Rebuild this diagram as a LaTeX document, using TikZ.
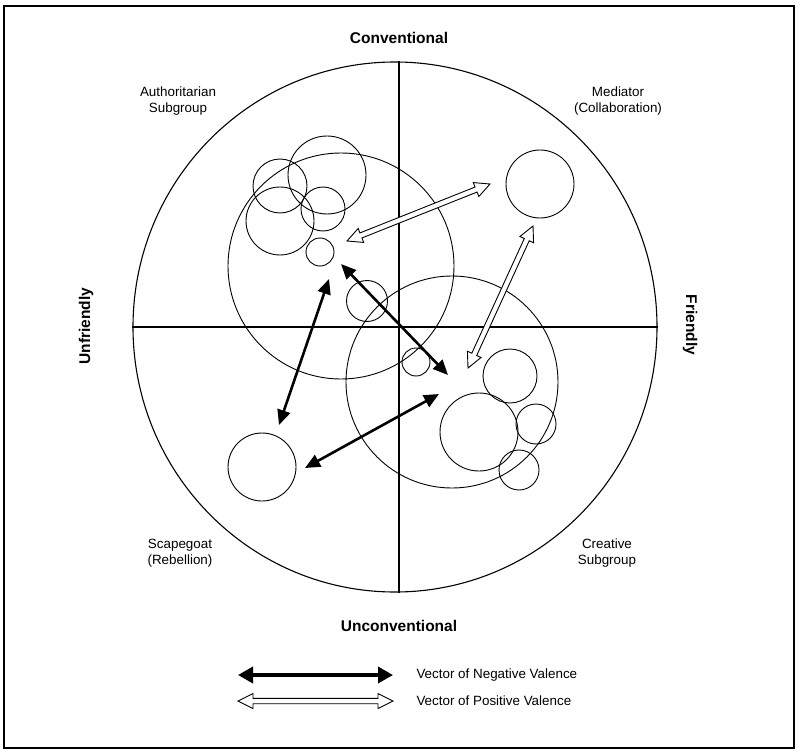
\documentclass[tikz,border=0pt]{standalone}
\usepackage{fontspec}
\setmainfont{Liberation Sans}
\usetikzlibrary{positioning,calc,arrows.meta,shapes.geometric}

% white vector with two open heads, between two named coordinates
\newcommand{\posvec}[2]{%
  \draw[posline] (#1)
    -- ($(#1)!15pt!(#2)!7.5pt!90:(#2)$)
    -- ($(#1)!15pt!(#2)!2.7pt!90:(#2)$)
    -- ($(#2)!15pt!(#1)!2.7pt!-90:(#1)$)
    -- ($(#2)!15pt!(#1)!7.5pt!-90:(#1)$)
    -- (#2)
    -- ($(#2)!15pt!(#1)!7.5pt!90:(#1)$)
    -- ($(#2)!15pt!(#1)!2.7pt!90:(#1)$)
    -- ($(#1)!15pt!(#2)!2.7pt!-90:(#2)$)
    -- ($(#1)!15pt!(#2)!7.5pt!-90:(#2)$)
    -- cycle;}

\begin{document}
\begin{tikzpicture}[x=1pt,y=-1pt,
    member/.style={circle,draw,line width=0.9pt,inner sep=0pt},
    axislbl/.style={font=\fontsize{15.5}{18}\selectfont\bfseries},
    rolelbl/.style={align=center,font=\fontsize{13.4}{16}\selectfont},
    negvec/.style={line width=2.6pt,{Triangle[length=15pt,width=13pt]}-{Triangle[length=15pt,width=13pt]}},
    posline/.style={draw,fill=white,line width=0.9pt,line join=miter}]
  \useasboundingbox (0,0) rectangle (800,754);
  \draw[line width=1.4pt] (4,6) rectangle (794,748);

  % the field
  \node[ellipse,draw,line width=1.1pt,inner sep=0pt,minimum width=524pt,minimum height=530pt] (field) at (395,327) {};
  \draw[line width=1.1pt] (field.west) -- (field.east);
  \draw[line width=1.1pt] ([xshift=4pt]field.north) -- ([xshift=4pt]field.south);

  \node[axislbl] (conv) at (399,38) {Conventional};
  \node[axislbl] (unconv) at (399,626) {Unconventional};
  \node[axislbl,rotate=90] (unfr) at (86,326) {Unfriendly};
  \node[axislbl,rotate=-90] (fr) at (690,325) {Friendly};

  \node[rolelbl] (authlbl) at (178,101) {Authoritarian\\Subgroup};
  \node[rolelbl] (medlbl) at (618,101) {Mediator\\(Collaboration)};
  \node[rolelbl] (scapelbl) at (180,553) {Scapegoat\\(Rebellion)};
  \node[rolelbl] (crealbl) at (607,553) {Creative\\Subgroup};

  % subgroups
  \node[member,minimum size=226pt] (auth) at (341,266) {};
  \node[member,minimum size=212pt] (crea) at (452,382) {};
  \node[member,minimum size=54pt] (a1) at (280,186) {};
  \node[member,minimum size=78pt] (a2) at (327,175) {};
  \node[member,minimum size=68pt] (a3) at (280,221) {};
  \node[member,minimum size=44pt] (a4) at (323,209) {};
  \node[member,minimum size=28pt] (a5) at (320,252) {};
  \node[member,minimum size=41pt] (a6) at (367,301) {};
  \node[member,minimum size=28pt] (c0) at (416,362) {};
  \node[member,minimum size=68pt] (med) at (540,184) {};
  \node[member,minimum size=68pt] (scape) at (262,467) {};
  \node[member,minimum size=54pt] (c1) at (510,376) {};
  \node[member,minimum size=78pt] (c2) at (479,432) {};
  \node[member,minimum size=40pt] (c3) at (536,424) {};
  \node[member,minimum size=40pt] (c4) at (519,470) {};

  % vectors
  \coordinate (p1a) at (347,241); \coordinate (p1b) at (490,184);
  \coordinate (p2a) at (533,226); \coordinate (p2b) at (468,368);
  \coordinate (n1a) at (329,279); \coordinate (n1b) at (279,425);
  \coordinate (n2a) at (341,264); \coordinate (n2b) at (448,375);
  \coordinate (n3a) at (439,394); \coordinate (n3b) at (305,468);
  \posvec{p1a}{p1b}
  \posvec{p2a}{p2b}
  \draw[negvec] (n1a) -- (n1b);
  \draw[negvec] (n2a) -- (n2b);
  \draw[negvec] (n3a) -- (n3b);

  % legend
  \coordinate (lna) at (238,675); \coordinate (lnb) at (393,675);
  \coordinate (lpa) at (238,701); \coordinate (lpb) at (393,701);
  \draw[negvec,line width=3.5pt,{Triangle[length=15pt,width=16pt]}-{Triangle[length=15pt,width=16pt]}] (lna) -- (lnb);
  \posvec{lpa}{lpb}
  \node[rolelbl,anchor=west] (neglbl) at (413,675) {Vector of Negative Valence};
  \node[rolelbl,anchor=west] (poslbl) at (413,701) {Vector of Positive Valence};
\end{tikzpicture}
\end{document}
